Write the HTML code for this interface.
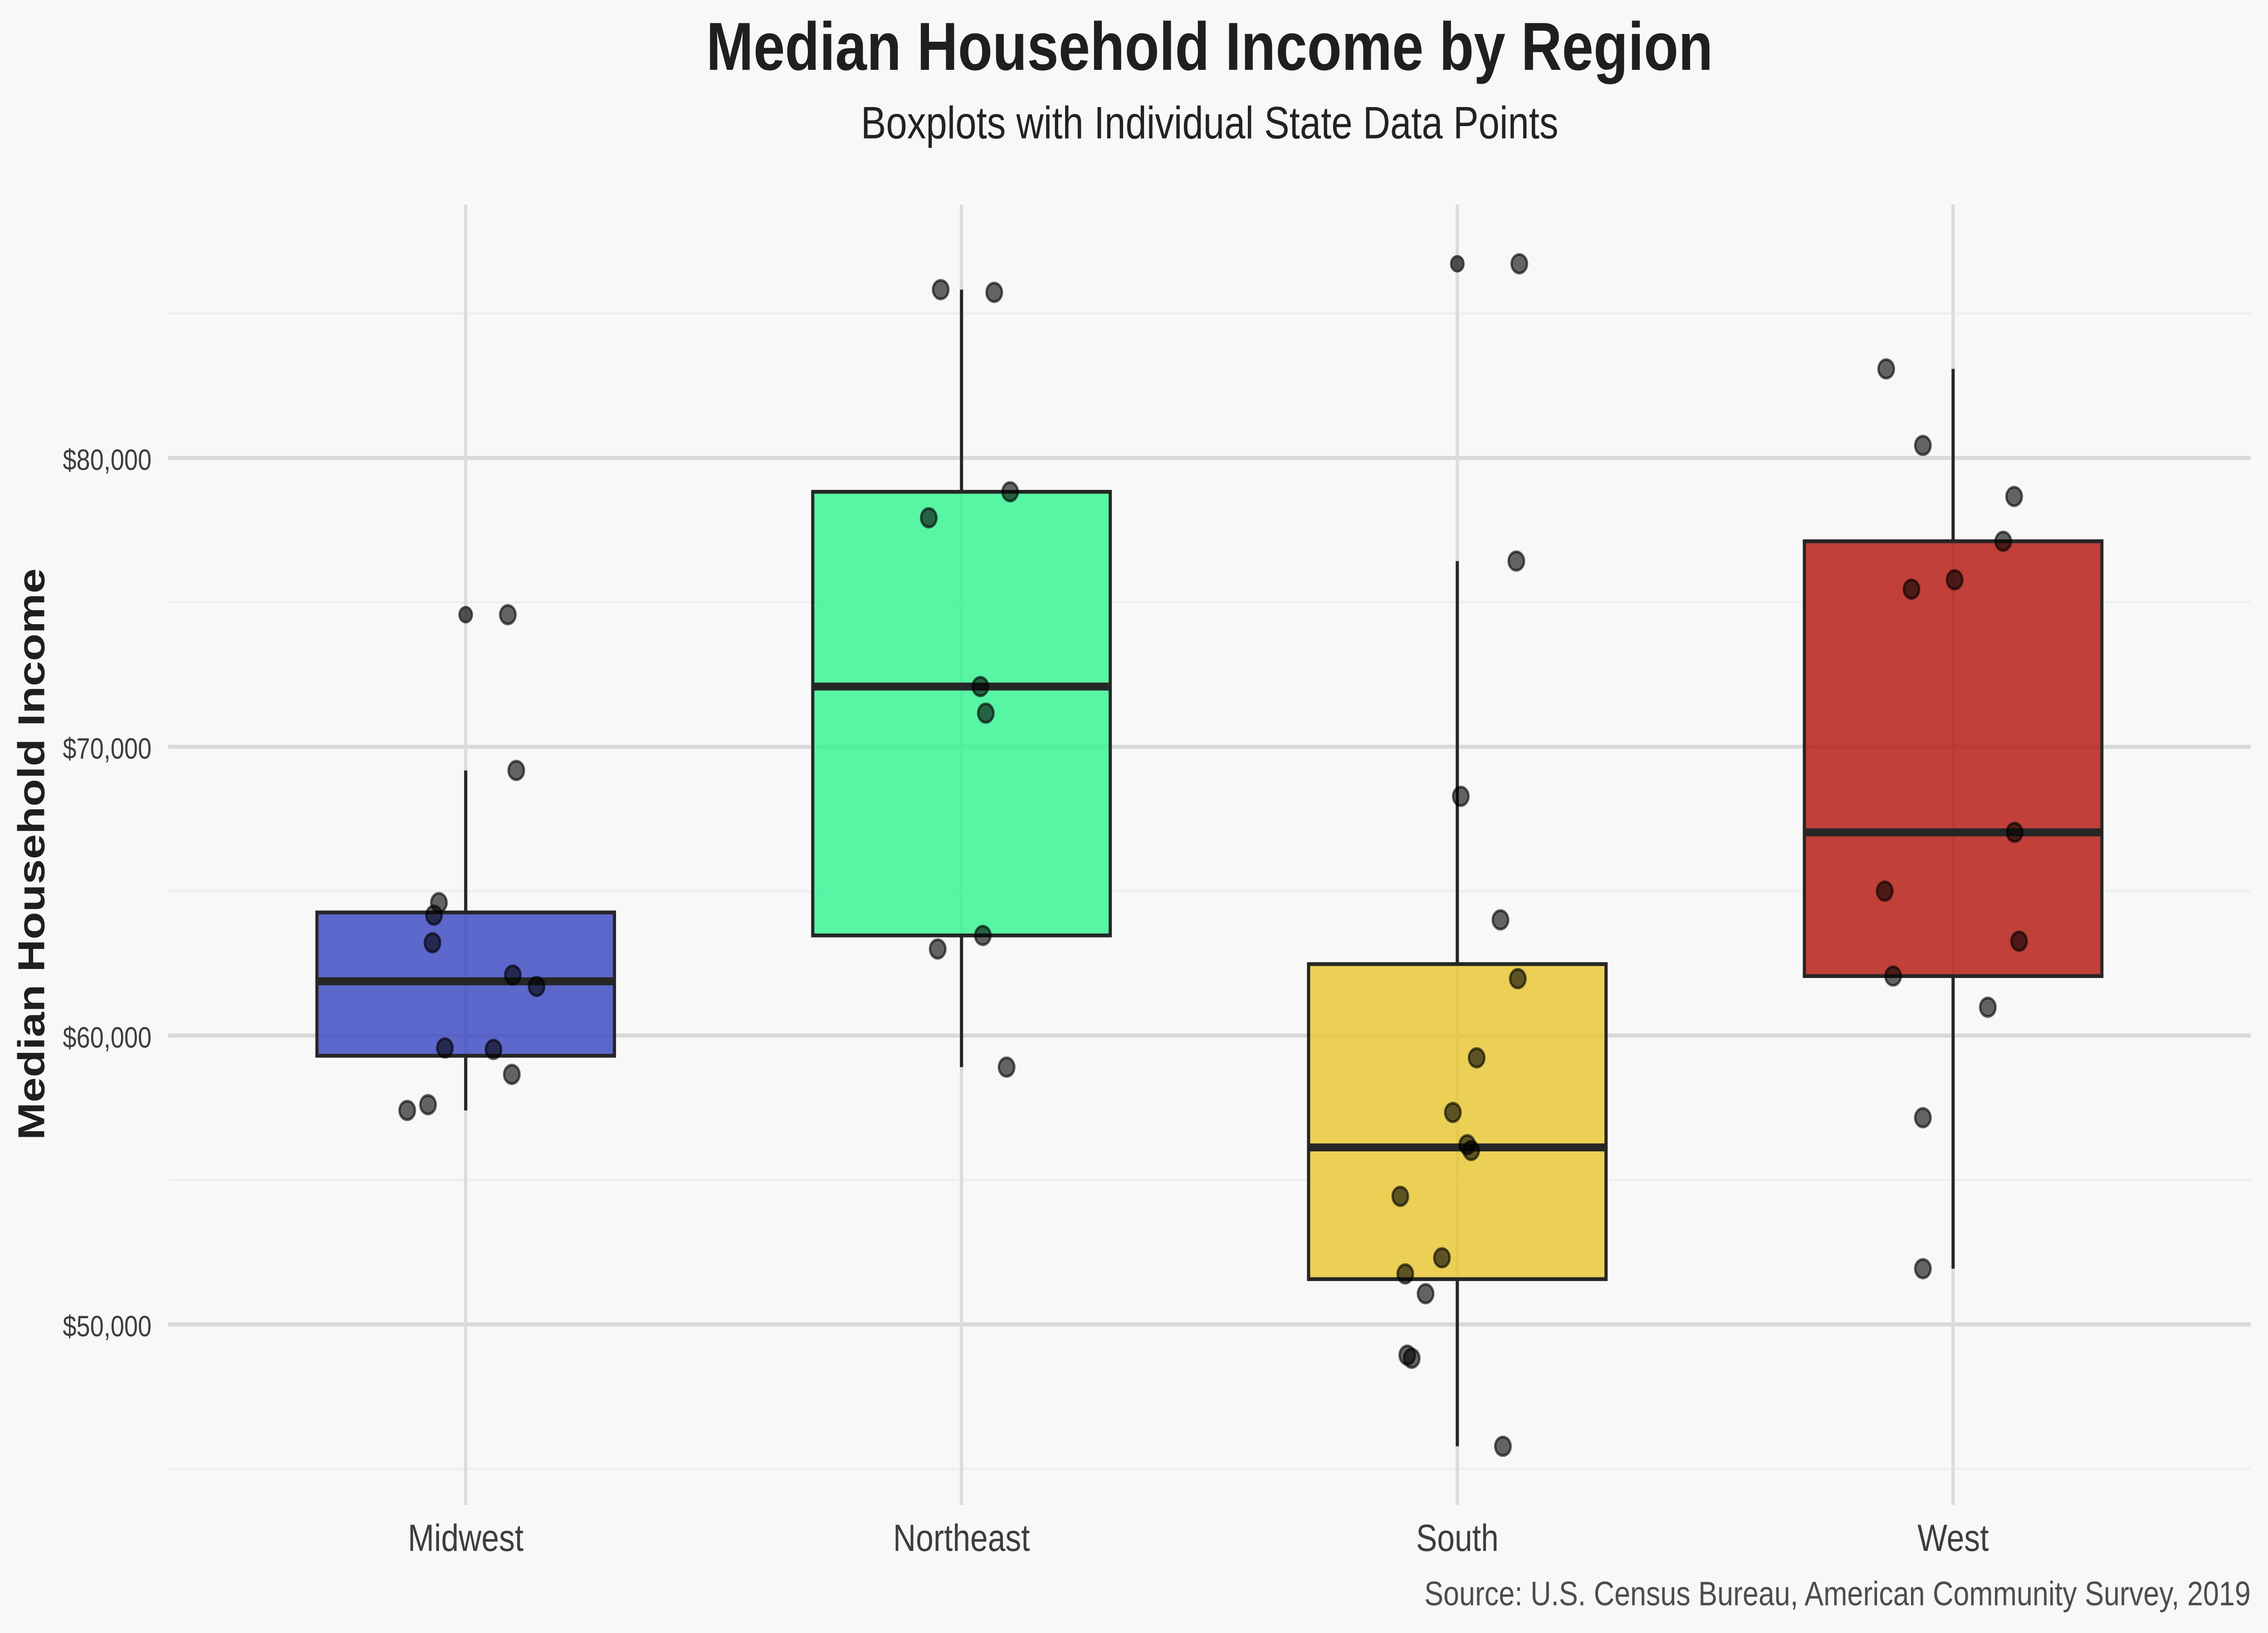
<!DOCTYPE html>
<html lang="en">
<head>
<meta charset="utf-8">
<title>Median Household Income by Region</title>
<style>
html,body{margin:0;padding:0;background:#f8f8f8;width:100%;height:100%;overflow:hidden}
svg{display:block;width:100vw;height:100vh;font-family:"Liberation Sans",sans-serif}
</style>
</head>
<body>
<svg id="chart" xmlns="http://www.w3.org/2000/svg" viewBox="0 0 6000 3600" preserveAspectRatio="none">
  <rect x="0" y="0" width="6000" height="3600" fill="#f8f8f8"/>
  <text x="3200" y="154" text-anchor="middle" font-size="149.8" font-weight="700" fill="#1f1f1f">Median Household Income by Region</text>
  <text x="3200" y="305" text-anchor="middle" font-size="100" fill="#222222">Boxplots with Individual State Data Points</text>
  <text transform="translate(117,1883) rotate(-90)" text-anchor="middle" font-size="99.5" font-weight="700" fill="#1f1f1f">Median Household Income</text>
  <text x="5954" y="3539" text-anchor="end" font-size="75.4" fill="#4d4d4d">Source: U.S. Census Bureau, American Community Survey, 2019</text>
  <g id="grid"></g>
  <g id="ticks"></g>
  <g id="boxes"></g>
  <g id="points"></g>
</svg>
<script>
const categories = ["Midwest", "Northeast", "South", "West"];
const boxColors = ["#3643c2", "#30f490", "#e9c52c", "#b31109"];
const majorTicks = [50000, 60000, 70000, 80000];
const minorTicks = [45000, 55000, 65000, 75000, 85000];
const tickLabels = ["$50,000", "$60,000", "$70,000", "$80,000"];

const q1Values = [59300, 63466, 51566, 62059];
const medianValues = [61878, 72084, 56127, 67036];
const q3Values = [64262, 78827, 62474, 77115];
const whiskerLow = [57407, 58907, 45778, 51927];
const whiskerHigh = [69179, 85827, 76429, 83082];
const outlierValues = [[74572], [], [86722], []];

const midwestIncome = [74572, 69179, 64602, 64168, 63213, 62095, 61700, 59571, 59520, 58655, 57606, 57407];
const midwestJitter = [0.085, 0.102, -0.054, -0.064, -0.067, 0.095, 0.143, -0.042, 0.056, 0.093, -0.076, -0.118];
const northeastIncome = [85827, 85733, 78827, 77927, 72084, 71164, 63466, 62997, 58907];
const northeastJitter = [-0.042, 0.066, 0.098, -0.066, 0.038, 0.049, 0.043, -0.048, 0.091];
const southIncome = [86722, 76429, 68283, 64006, 61969, 59229, 57336, 56221, 56020, 54432, 52305, 51746, 51062, 48933, 48825, 45778];
const southJitter = [0.125, 0.119, 0.007, 0.087, 0.122, 0.039, -0.009, 0.020, 0.028, -0.115, -0.031, -0.105, -0.064, -0.101, -0.092, 0.092];
const westIncome = [83082, 80432, 78665, 77115, 75780, 75455, 67036, 65000, 63267, 62059, 60980, 57155, 51927];
const westJitter = [-0.135, -0.061, 0.123, 0.101, 0.003, -0.084, 0.124, -0.138, 0.133, -0.121, 0.070, -0.061, -0.061];

const incomeByRegion = [midwestIncome, northeastIncome, southIncome, westIncome];
const jitterByRegion = [midwestJitter, northeastJitter, southJitter, westJitter];

const SVGNS = "http://www.w3.org/2000/svg";
const panelLeft = 445, panelRight = 5954, panelTop = 451, panelBottom = 3318;
const unit = (panelRight - panelLeft) / 4.2;
const boxWidth = 0.6;
function xScale(pos) { return panelLeft + (pos + 0.6) * unit; }
function yScale(v) { return 1009.5 + (80000 - v) * 0.06367; }
function make(parent, tag, attrs, text) {
  const el = document.createElementNS(SVGNS, tag);
  for (const k in attrs) el.setAttribute(k, attrs[k]);
  if (text !== undefined) el.textContent = text;
  parent.appendChild(el);
  return el;
}

const grid = document.getElementById("grid");
const ticks = document.getElementById("ticks");
const boxes = document.getElementById("boxes");
const points = document.getElementById("points");

minorTicks.forEach(function (v) {
  const line = make(grid, "line", {x1: panelLeft, x2: panelRight, y1: yScale(v), y2: yScale(v), stroke: "#eeeeee", "stroke-width": 4.7});
  
  
});
majorTicks.forEach(function (v, i) {
  const line = make(grid, "line", {x1: panelLeft, x2: panelRight, y1: yScale(v), y2: yScale(v), stroke: "#d9d9d9", "stroke-width": 9});
  
  
  const label = make(ticks, "text", {x: 401, y: yScale(v) + 26.5, "text-anchor": "end", "font-size": 65, fill: "#3d3d3d"}, tickLabels[i]);
  
  
});
categories.forEach(function (name, i) {
  const cx = xScale(i);
  const line = make(grid, "line", {x1: cx, x2: cx, y1: panelTop, y2: panelBottom, stroke: "#dcdcdc", "stroke-width": 9});
  
  
  const label = make(ticks, "text", {x: cx, y: 3419, "text-anchor": "middle", "font-size": 83.5, fill: "#3d3d3d"}, name);
  
  

  const whiskerUp = make(boxes, "line", {x1: cx, x2: cx, y1: yScale(whiskerHigh[i]), y2: yScale(q3Values[i]), stroke: "#262626", "stroke-width": 8.4});
  
  
  const whiskerDown = make(boxes, "line", {x1: cx, x2: cx, y1: yScale(q1Values[i]), y2: yScale(whiskerLow[i]), stroke: "#262626", "stroke-width": 8.4});
  
  
  const left = xScale(i - boxWidth / 2), right = xScale(i + boxWidth / 2);
  const box = make(boxes, "rect", {x: left, y: yScale(q3Values[i]), width: right - left, height: yScale(q1Values[i]) - yScale(q3Values[i]), fill: boxColors[i], "fill-opacity": 0.8, stroke: "#262626", "stroke-width": 8.4});
  
  
  const median = make(boxes, "line", {x1: left, x2: right, y1: yScale(medianValues[i]), y2: yScale(medianValues[i]), stroke: "#262626", "stroke-width": 17.6});
  
  
  outlierValues[i].forEach(function (v) {
    const o = make(boxes, "circle", {cx: cx, cy: yScale(v), r: 16.5, fill: "#262626", "fill-opacity": 0.8, stroke: "#262626", "stroke-opacity": 0.8, "stroke-width": 5.6});
    
    
  });
  incomeByRegion[i].forEach(function (v, j) {
    const p = make(points, "circle", {cx: xScale(i + jitterByRegion[i][j]), cy: yScale(v), r: 20.5, fill: "#000000", "fill-opacity": 0.6, stroke: "#000000", "stroke-opacity": 0.6, "stroke-width": 6});
    
    
  });
});
</script>
</body>
</html>
